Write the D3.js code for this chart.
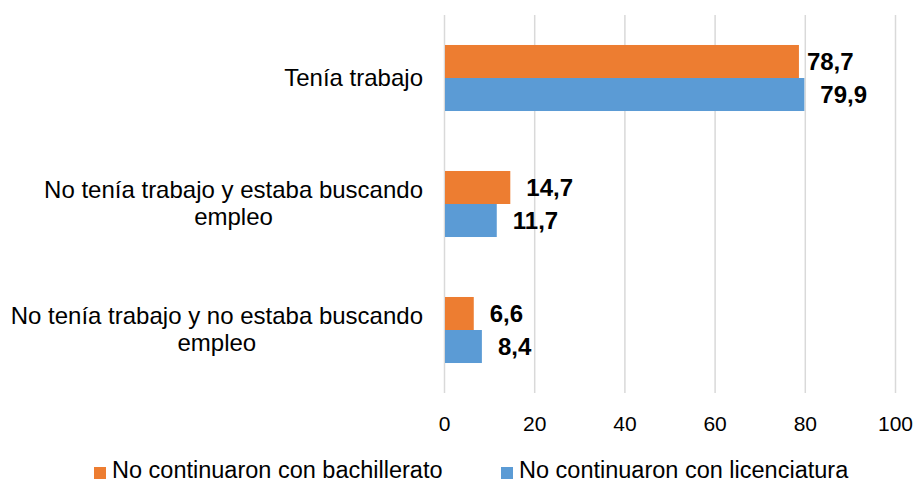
<!DOCTYPE html>
<html lang="es">
<head>
<meta charset="utf-8">
<title>Situación laboral</title>
<script src="https://cdn.jsdelivr.net/npm/d3@7/dist/d3.min.js"></script>
<style>
  body { margin: 0; background: #fff; }
  svg { font-family: "Liberation Sans", Arial, sans-serif; display: block; }
</style>
</head>
<body>
<div id="stage"></div>
<script>
  // categories (each one split into the lines shown on the chart)
  var categories = ["Tenía trabajo", "No tenía trabajo y estaba buscando empleo", "No tenía trabajo y no estaba buscando empleo"];
  var categoryLines = [
    ["Tenía trabajo"],
    ["No tenía trabajo y estaba buscando", "empleo"],
    ["No tenía trabajo y no estaba buscando", "empleo"]
  ];
  var seriesNames = ["No continuaron con bachillerato", "No continuaron con licenciatura"];
  var bachillerato = [78.7, 14.7, 6.6];
  var licenciatura = [79.9, 11.7, 8.4];
  var xTicks = [0, 20, 40, 60, 80, 100];
  var colors = ["#ED7D31", "#5B9BD5"];

  var W = 917, H = 482;
  var svg = d3.select("#stage").append("svg").attr("width", W).attr("height", H);

  var x = d3.scaleLinear().domain([0, 100]).range([444, 895]);
  var y = d3.scaleBand().domain(categories).range([15, 393]).paddingInner(0.476).paddingOuter(0.238);
  var ySub = d3.scaleBand().domain([0, 1]).range([0, y.bandwidth()]);

  // gridlines + tick labels
  var axis = svg.append("g").attr("transform", "translate(0,393)")
    .call(d3.axisBottom(x).tickValues(xTicks).tickSizeInner(-(393 - 15)).tickSizeOuter(0).tickPadding(23));
  axis.select(".domain").remove();
  axis.selectAll(".tick line").attr("stroke", "#d9d9d9").attr("stroke-width", 1.5);
  axis.selectAll(".tick text").attr("font-size", 21).attr("fill", "#000")
    .style("font-family", "'Liberation Sans', Arial, sans-serif");

  // bars
  var rows = [];
  categories.forEach(function (c, i) {
    rows.push({ cat: c, s: 0, i: i, v: bachillerato[i] });
    rows.push({ cat: c, s: 1, i: i, v: licenciatura[i] });
  });

  svg.append("g").selectAll("rect").data(rows).enter().append("rect")
    .attr("x", x(0) + 1)
    .attr("y", function (d) { return y(d.cat) + ySub(d.s); })
    .attr("width", function (d) { return x(d.v) - x(0) - 1; })
    .attr("height", ySub.bandwidth())
    .attr("fill", function (d) { return colors[d.s]; });

  // value labels
  svg.append("g").selectAll("text").data(rows).enter().append("text")
    .attr("x", function (d) { return x(d.v) + (d.s === 0 && d.i === 0 ? 8 : 16); })
    .attr("y", function (d) { return y(d.cat) + ySub(d.s) + ySub.bandwidth() / 2; })
    .attr("dy", "0.36em")
    .attr("font-size", 24).attr("font-weight", "bold")
    .text(function (d) { return String(d.v).replace(".", ","); });

  // category labels
  var catG = svg.append("g").selectAll("text").data(categories).enter().append("text")
    .attr("font-size", 24)
    .attr("text-anchor", "middle");
  catG.each(function (c, i) {
    var lines = categoryLines[i];
    var t = d3.select(this);
    var cy = y(c) + y.bandwidth() / 2;
    // measure widest line to keep the block right-aligned
    var tmp = svg.append("text").attr("font-size", 24).text(lines[0]);
    var w = tmp.node().getComputedTextLength();
    tmp.remove();
    var right = 423;
    var mid = right - w / 2;
    var first = lines.length === 1 ? cy + 8 : cy - 6;
    lines.forEach(function (ln, k) {
      t.append("tspan").attr("x", mid).attr("y", first + k * 27).text(ln);
    });
  });

  // legend
  var legX = [94, 501];
  var leg = svg.append("g").selectAll("g").data(seriesNames).enter().append("g")
    .attr("transform", function (d, i) { return "translate(" + legX[i] + ",0)"; });
  leg.append("rect").attr("x", 0).attr("y", 467).attr("width", 12).attr("height", 12)
    .attr("fill", function (d, i) { return colors[i]; });
  leg.append("text").attr("x", 18).attr("y", 478).attr("font-size", 23.5)
    .text(function (d) { return d; });
</script>
</body>
</html>
